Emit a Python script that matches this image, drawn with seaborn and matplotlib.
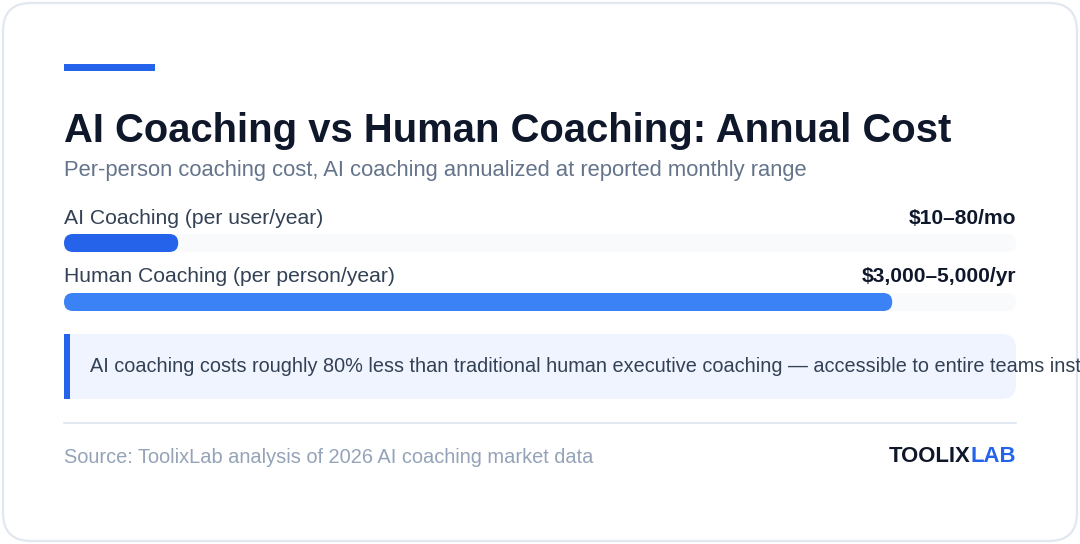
import numpy as np
import pandas as pd
import matplotlib
matplotlib.use("Agg")
import matplotlib.pyplot as plt
from matplotlib.patches import FancyBboxPatch, Rectangle
import seaborn as sns

# datos del gráfico
categorias = ["AI Coaching (per user/year)", "Human Coaching (per person/year)"]
etiquetas_valor = ["$10\u201380/mo", "$3,000\u20135,000/yr"]
ancho_barra = [12, 87]          # % del ancho de la pista
colores_barra = ["#2563eb", "#3b82f6"]

titulo = "AI Coaching vs Human Coaching: Annual Cost"
subtitulo = "Per-person coaching cost, AI coaching annualized at reported monthly range"
nota = ("AI coaching costs roughly 80% less than traditional human executive coaching "
        "\u2014 accessible to entire teams instead of just executives.")
fuente = "Source: ToolixLab analysis of 2026 AI coaching market data"

sns.set_theme(style="white")
plt.rcParams["font.family"] = ["Liberation Sans", "DejaVu Sans"]

W, H = 1080, 544
fig = plt.figure(figsize=(W / 100, H / 100), dpi=100, facecolor="white")

# capa de fondo en pixeles
bg = fig.add_axes([0, 0, 1, 1], zorder=0)
bg.set_xlim(0, W)
bg.set_ylim(H, 0)
bg.axis("off")

tarjeta = FancyBboxPatch((3, 3), W - 6, H - 6, boxstyle="round,pad=0,rounding_size=28",
                         fc="white", ec="#e2e8f0", lw=1.6)
bg.add_patch(tarjeta)
bg.add_patch(Rectangle((64, 64), 91, 7, fc="#2563eb", ec="none"))

bg.text(64, 142, titulo, fontsize=28.8, fontweight="bold", color="#0f172a", va="baseline")
bg.text(64, 176, subtitulo, fontsize=15.8, color="#64748b", va="baseline")

ys_label = [224, 282]
for lab, val, yl in zip(categorias, etiquetas_valor, ys_label):
    bg.text(64, yl, lab, fontsize=15.2, color="#334155", va="baseline")
    bg.text(1016, yl, val, fontsize=15.1, fontweight="bold", color="#0f172a",
            va="baseline", ha="right")

# caja de nota
bg.add_patch(FancyBboxPatch((64, 334), 952, 65, boxstyle="round,pad=0,rounding_size=14",
                            fc="#eff4ff", ec="none"))
bg.add_patch(Rectangle((64, 334), 40, 65, fc="#eff4ff", ec="none"))
bg.add_patch(Rectangle((64, 334), 6, 65, fc="#2563eb", ec="none"))
t = bg.text(90, 372, nota, fontsize=14.35, color="#334155", va="baseline")
t.set_clip_path(tarjeta)

bg.plot([64, 1016], [423, 423], color="#e2e8f0", lw=1.5)
bg.text(64, 463, fuente, fontsize=14.4, color="#94a3b8", va="baseline")

lab_txt = bg.text(1016, 462, "LAB", fontsize=15.9, fontweight="bold", color="#2563eb",
                  va="baseline", ha="right")
fig.canvas.draw()
bb = lab_txt.get_window_extent()
x_lab = bg.transData.inverted().transform((bb.x0, bb.y0))[0]
bg.text(x_lab, 462, "TOOLIX", fontsize=15.9, fontweight="bold", color="#0f172a",
        va="baseline", ha="right")

# barras
ax = fig.add_axes([64 / W, 1 - 311 / H, 952 / W, 77 / H], zorder=1)
ax.patch.set_alpha(0)
alto = 18 / 59
df = pd.DataFrame({"categoria": categorias, "valor": ancho_barra, "pista": [100, 100]})
sns.barplot(data=df, x="pista", y="categoria", color="#f8fafc", width=alto,
            saturation=1, ax=ax)
sns.barplot(data=df, x="valor", y="categoria", hue="categoria", palette=colores_barra,
            width=alto, saturation=1, legend=False, ax=ax)
ax.set_xlim(0, 100)
ax.set_ylim(1 + alto / 2, -alto / 2)
ax.axis("off")

px_x = 952 / 100
px_y = 77 / (1 + alto)
r_px = 9
for p in list(ax.patches):
    x, y, w, h = p.get_x(), p.get_y(), p.get_width(), p.get_height()
    fb = FancyBboxPatch((x, y), w, h,
                        boxstyle=f"round,pad=0,rounding_size={r_px / px_x}",
                        mutation_aspect=px_x / px_y,
                        fc=p.get_facecolor(), ec="none", zorder=p.get_zorder())
    p.remove()
    ax.add_patch(fb)

fig.savefig("out.png", dpi=100, facecolor="white")
